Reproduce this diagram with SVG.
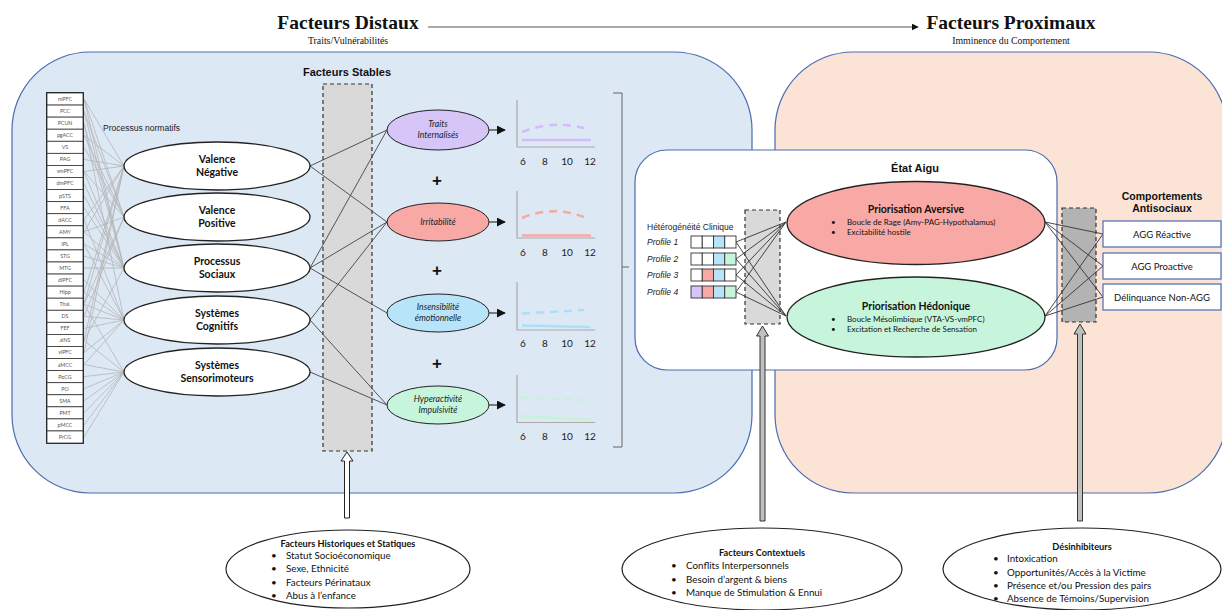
<svg xmlns="http://www.w3.org/2000/svg" width="1222" height="610" viewBox="0 0 1222 610">
<defs>
<marker id="ah" viewBox="0 0 10 10" refX="9" refY="5" markerWidth="7" markerHeight="7" orient="auto" markerUnits="userSpaceOnUse"><path d="M0,0 L10,5 L0,10 z" fill="#111"/></marker>
<marker id="ah2" viewBox="0 0 10 10" refX="9" refY="5" markerWidth="9" markerHeight="9" orient="auto" markerUnits="userSpaceOnUse"><path d="M0,0 L10,5 L0,10 z" fill="#111"/></marker>
<style>
.title{font-family:"Liberation Serif",serif;font-weight:bold;font-size:19.5px;fill:#111;text-anchor:middle}
.sub{font-family:"Liberation Serif",serif;font-size:9.8px;fill:#111;text-anchor:middle}
.ar{font-family:"Liberation Sans",Arial,sans-serif}
.lt{font-family:Lato,"Open Sans",sans-serif}
.cell{fill:#fff;stroke:#333;stroke-width:0.8}
.ct{font-family:Lato,sans-serif;font-size:5.3px;fill:#555;text-anchor:middle}
.rd{fill:#fff;stroke:#222;stroke-width:1.3}
.rdt{font-family:Lato,sans-serif;font-weight:bold;font-size:10.5px;fill:#111;text-anchor:middle}
.tr{stroke:#222;stroke-width:1}
.trt{font-family:Lato,sans-serif;font-style:italic;font-size:8.7px;fill:#222;text-anchor:middle}
.plus{font-family:"Liberation Sans",sans-serif;font-weight:bold;font-size:17px;fill:#111;text-anchor:middle}
.axis{stroke:#aaa;stroke-width:1.2;fill:none}
.gl{font-family:Lato,sans-serif;font-size:10px;fill:#222;text-anchor:middle}
.dash{fill:none;stroke-width:2.5;stroke-dasharray:8,6}
.sol{fill:none;stroke-width:2.5}
.box{fill:#d9d9d9;stroke:#333;stroke-width:1.2;stroke-dasharray:4,3}
.bt{font-family:Lato,sans-serif;font-size:9.8px;fill:#111}
.btb{font-family:Lato,sans-serif;font-weight:bold;font-size:9.2px;fill:#111;text-anchor:middle}
.et{font-family:Lato,sans-serif;font-size:8px;fill:#111}
.pc{stroke:#333;stroke-width:0.9}
.pl{font-family:"Liberation Sans",sans-serif;font-style:italic;font-size:8.5px;fill:#222}
.agg{fill:#fff;stroke:#4a6db0;stroke-width:1.2}
.aggt{font-family:Lato,sans-serif;font-size:9.5px;fill:#111;text-anchor:middle}
</style>
</defs>

<g id="panels">
<rect x="12" y="52" width="740" height="441" rx="78" ry="78" fill="#dde8f5" stroke="#4a6db0" stroke-width="1.2"/>
<rect x="775" y="52" width="452" height="441" rx="78" ry="78" fill="#fbe3d6" stroke="#4a6db0" stroke-width="1.2"/>
</g>

<g id="titles">
<text class="title" x="348" y="29">Facteurs Distaux</text>
<text class="sub" x="348" y="44">Traits/Vulnérabilités</text>
<text class="title" x="1011" y="29">Facteurs Proximaux</text>
<text class="sub" x="1011" y="44">Imminence du Comportement</text>
<line x1="428" y1="27" x2="918" y2="27" stroke="#555" stroke-width="1" marker-end="url(#ah)"/>
<text class="ar" x="347" y="76" font-size="11" font-weight="bold" text-anchor="middle" fill="#111">Facteurs Stables</text>
<text class="ar" x="103" y="131" font-size="8.5" fill="#222">Processus normatifs</text>
</g>

<g id="stable-box"><rect class="box" x="323" y="84" width="49" height="367"/></g>

<g id="state-panel">
<rect x="635" y="150" width="422" height="220" rx="32" ry="32" fill="#fff" stroke="#4a6db0" stroke-width="1.2"/>
<text class="ar" x="915" y="172" font-size="11" font-weight="bold" text-anchor="middle" fill="#111">État Aigu</text>
<rect class="box" x="745" y="210" width="35" height="114"/>
<rect class="box" x="1062" y="208" width="34" height="114" style="fill:#b3b3b3"/>
</g>

<g id="connectors">
<path fill="none" stroke="#b5b5b5" stroke-width="0.8" d="M84 99L124 166 M84 135.2L124 166 M84 159.4L124 166 M84 171.5L124 166 M84 219.7L124 166 M84 231.8L124 166 M84 292.2L124 166 M84 304.2L124 166 M84 340.4L124 166 M84 352.5L124 166 M84 111.1L124 217 M84 135.2L124 217 M84 147.3L124 217 M84 171.5L124 217 M84 231.8L124 217 M84 316.3L124 217 M84 304.2L124 217 M84 99L124 217 M84 99L124 268 M84 111.1L124 268 M84 123.2L124 268 M84 183.5L124 268 M84 195.6L124 268 M84 207.7L124 268 M84 243.9L124 268 M84 256L124 268 M84 268L124 268 M84 340.4L124 268 M84 231.8L124 268 M84 171.5L124 268 M84 280.1L124 320 M84 219.7L124 320 M84 243.9L124 320 M84 328.4L124 320 M84 292.2L124 320 M84 364.6L124 320 M84 352.5L124 320 M84 123.2L124 320 M84 316.3L124 320 M84 304.2L124 320 M84 376.6L124 372 M84 388.7L124 372 M84 400.8L124 372 M84 412.9L124 372 M84 424.9L124 372 M84 437L124 372 M84 364.6L124 372 M84 340.4L124 372 M84 304.2L124 372"/>
<path fill="none" stroke="#444" stroke-width="0.9" d="M310 166L387 130 M310 166L387 222 M310 268L387 130 M310 268L387 222 M310 268L387 313 M310 320L387 222 M310 320L387 405 M310 372L387 405"/>
<g stroke="#111" stroke-width="1">
<line x1="489" y1="130" x2="505" y2="130" marker-end="url(#ah2)"/>
<line x1="489" y1="222" x2="505" y2="222" marker-end="url(#ah2)"/>
<line x1="489" y1="313" x2="505" y2="313" marker-end="url(#ah2)"/>
<line x1="489" y1="405" x2="505" y2="405" marker-end="url(#ah2)"/>
</g>
<path fill="none" stroke="#333" stroke-width="0.9" d="M736 242L786 222 M736 242L786 316 M736 259L786 222 M736 259L786 316 M736 275L786 222 M736 275L786 316 M736 292L786 222 M736 292L786 316"/>
<path fill="none" stroke="#333" stroke-width="0.9" d="M1045 222L1103 234 M1045 222L1103 266 M1045 222L1103 297 M1045 316L1103 234 M1045 316L1103 266 M1045 316L1103 297"/>
<path d="M344.5 518 L344.5 461 L341 461 L347 452 L353 461 L349.5 461 L349.5 518 Z" fill="#fff" stroke="#222" stroke-width="1"/>
<path d="M760 521 L760 336 L756.5 336 L762.5 326 L768.5 336 L765 336 L765 521 Z" fill="#bfbfbf" stroke="#333" stroke-width="1"/>
<path d="M1077.5 521 L1077.5 334 L1074 334 L1080 324 L1086 334 L1082.5 334 L1082.5 521 Z" fill="#bfbfbf" stroke="#333" stroke-width="1"/>
<path d="M613 93 L622 93 L622 447 L613 447 M622 267 L629 267" fill="none" stroke="#666" stroke-width="1"/>
</g>

<g id="brain-regions">
<rect x="47" y="93" width="36" height="350" fill="#fff" stroke="#111" stroke-width="1.8"/>
<rect class="cell" x="47" y="93" width="36" height="12.07"/><text class="ct" x="65" y="100.9">mPFC</text>
<rect class="cell" x="47" y="105.07" width="36" height="12.07"/><text class="ct" x="65" y="113">PCC</text>
<rect class="cell" x="47" y="117.14" width="36" height="12.07"/><text class="ct" x="65" y="125.1">PCUN</text>
<rect class="cell" x="47" y="129.21" width="36" height="12.07"/><text class="ct" x="65" y="137.1">pgACC</text>
<rect class="cell" x="47" y="141.28" width="36" height="12.07"/><text class="ct" x="65" y="149.2">VS</text>
<rect class="cell" x="47" y="153.35" width="36" height="12.07"/><text class="ct" x="65" y="161.3">PAG</text>
<rect class="cell" x="47" y="165.42" width="36" height="12.07"/><text class="ct" x="65" y="173.4">vmPFC</text>
<rect class="cell" x="47" y="177.49" width="36" height="12.07"/><text class="ct" x="65" y="185.4">dmPFC</text>
<rect class="cell" x="47" y="189.56" width="36" height="12.07"/><text class="ct" x="65" y="197.5">pSTS</text>
<rect class="cell" x="47" y="201.63" width="36" height="12.07"/><text class="ct" x="65" y="209.6">FFA</text>
<rect class="cell" x="47" y="213.7" width="36" height="12.07"/><text class="ct" x="65" y="221.6">dACC</text>
<rect class="cell" x="47" y="225.77" width="36" height="12.07"/><text class="ct" x="65" y="233.7">AMY</text>
<rect class="cell" x="47" y="237.84" width="36" height="12.07"/><text class="ct" x="65" y="245.8">IPL</text>
<rect class="cell" x="47" y="249.91" width="36" height="12.07"/><text class="ct" x="65" y="257.9">STG</text>
<rect class="cell" x="47" y="261.98" width="36" height="12.07"/><text class="ct" x="65" y="269.9">MTG</text>
<rect class="cell" x="47" y="274.05" width="36" height="12.07"/><text class="ct" x="65" y="282">dlPFC</text>
<rect class="cell" x="47" y="286.12" width="36" height="12.07"/><text class="ct" x="65" y="294.1">Hipp</text>
<rect class="cell" x="47" y="298.19" width="36" height="12.07"/><text class="ct" x="65" y="306.1">Thal.</text>
<rect class="cell" x="47" y="310.26" width="36" height="12.07"/><text class="ct" x="65" y="318.2">DS</text>
<rect class="cell" x="47" y="322.33" width="36" height="12.07"/><text class="ct" x="65" y="330.3">FEF</text>
<rect class="cell" x="47" y="334.4" width="36" height="12.07"/><text class="ct" x="65" y="342.3">aINS</text>
<rect class="cell" x="47" y="346.47" width="36" height="12.07"/><text class="ct" x="65" y="354.4">vlPFC</text>
<rect class="cell" x="47" y="358.54" width="36" height="12.07"/><text class="ct" x="65" y="366.5">aMCC</text>
<rect class="cell" x="47" y="370.61" width="36" height="12.07"/><text class="ct" x="65" y="378.5">PoCG</text>
<rect class="cell" x="47" y="382.68" width="36" height="12.07"/><text class="ct" x="65" y="390.6">PO</text>
<rect class="cell" x="47" y="394.75" width="36" height="12.07"/><text class="ct" x="65" y="402.7">SMA</text>
<rect class="cell" x="47" y="406.82" width="36" height="12.07"/><text class="ct" x="65" y="414.8">PMT</text>
<rect class="cell" x="47" y="418.89" width="36" height="12.07"/><text class="ct" x="65" y="426.8">pMCC</text>
<rect class="cell" x="47" y="430.96" width="36" height="12.07"/><text class="ct" x="65" y="438.9">PrCG</text>
</g>

<g id="rdoc-valence-negative"><ellipse class="rd" cx="217" cy="166" rx="93" ry="24"/><text class="rdt" x="217" y="163">Valence</text><text class="rdt" x="217" y="176">Négative</text></g>
<g id="rdoc-valence-positive"><ellipse class="rd" cx="217" cy="217" rx="93" ry="24"/><text class="rdt" x="217" y="214">Valence</text><text class="rdt" x="217" y="227">Positive</text></g>
<g id="rdoc-processus-sociaux"><ellipse class="rd" cx="217" cy="268" rx="93" ry="24"/><text class="rdt" x="217" y="265">Processus</text><text class="rdt" x="217" y="278">Sociaux</text></g>
<g id="rdoc-systemes-cognitifs"><ellipse class="rd" cx="217" cy="320" rx="93" ry="24"/><text class="rdt" x="217" y="317">Systèmes</text><text class="rdt" x="217" y="330">Cognitifs</text></g>
<g id="rdoc-sensorimoteurs"><ellipse class="rd" cx="217" cy="372" rx="93" ry="24"/><text class="rdt" x="217" y="369">Systèmes</text><text class="rdt" x="217" y="382">Sensorimoteurs</text></g>

<g id="trait-internalises"><ellipse class="tr" cx="438" cy="130" rx="51" ry="20" fill="#d6c6f8"/><text class="trt" x="438" y="127">Traits</text><text class="trt" x="438" y="138">Internalisés</text></g>
<g id="trait-irritabilite"><ellipse class="tr" cx="438" cy="222" rx="51" ry="19" fill="#f8a9a6"/><text class="trt" x="438" y="225">Irritabilité</text></g>
<g id="trait-insensibilite"><ellipse class="tr" cx="438" cy="313" rx="51" ry="19" fill="#b7e4f9"/><text class="trt" x="438" y="310">Insensibilité</text><text class="trt" x="438" y="321">émotionnelle</text></g>
<g id="trait-hyperactivite"><ellipse class="tr" cx="438" cy="405" rx="51" ry="19" fill="#c7f5dc"/><text class="trt" x="438" y="402">Hyperactivité</text><text class="trt" x="438" y="413">Impulsivité</text></g>

<g id="plus-signs">
<text class="plus" x="437" y="186">+</text>
<text class="plus" x="437" y="276">+</text>
<text class="plus" x="437" y="369">+</text>
</g>

<g id="graph-1">
<path class="axis" d="M517 100 L517 147 L595 147"/>
<path class="dash" stroke="#d4bcfb" d="M522 132 Q552 120 584 128"/>
<path class="sol" stroke="#d4bcfb" d="M522 140 L591 140"/>
<text class="gl" x="523" y="165">6</text><text class="gl" x="545" y="165">8</text><text class="gl" x="567" y="165">10</text><text class="gl" x="590" y="165">12</text>
</g>
<g id="graph-2">
<path class="axis" d="M517 191 L517 238 L595 238"/>
<path class="dash" stroke="#f6a8a2" d="M522 218 Q552 205 584 217"/>
<path class="sol" stroke="#f6a8a2" d="M522 235.5 L591 235.5"/>
<text class="gl" x="523" y="256">6</text><text class="gl" x="545" y="256">8</text><text class="gl" x="567" y="256">10</text><text class="gl" x="590" y="256">12</text>
</g>
<g id="graph-3">
<path class="axis" d="M517 282 L517 330 L595 330"/>
<path class="dash" stroke="#aadff8" d="M522 313.5 L584 310"/>
<path class="sol" stroke="#aadff8" d="M522 325.5 L590 327"/>
<text class="gl" x="523" y="347">6</text><text class="gl" x="545" y="347">8</text><text class="gl" x="567" y="347">10</text><text class="gl" x="590" y="347">12</text>
</g>
<g id="graph-4">
<path class="axis" d="M517 375 L517 422.5 L595 422.5"/>
<path class="dash" stroke="#c6f3d8" d="M522 397.5 L584 400"/>
<path class="sol" stroke="#c6f3d8" d="M522 416 L590 420"/>
<text class="gl" x="523" y="440">6</text><text class="gl" x="545" y="440">8</text><text class="gl" x="567" y="440">10</text><text class="gl" x="590" y="440">12</text>
</g>

<g id="profiles">
<text class="ar" x="647" y="230" font-size="8.5" fill="#222">Hétérogénéité Clinique</text>
<text class="pl" x="647" y="245">Profile 1</text>
<text class="pl" x="647" y="262">Profile 2</text>
<text class="pl" x="647" y="278">Profile 3</text>
<text class="pl" x="647" y="295">Profile 4</text>
<g class="pc">
<rect x="691" y="236" width="11.25" height="12" fill="#fff"/><rect x="702.25" y="236" width="11.25" height="12" fill="#fff"/><rect x="713.5" y="236" width="11.25" height="12" fill="#b7e4f9"/><rect x="724.75" y="236" width="11.25" height="12" fill="#fff"/>
<rect x="691" y="253" width="11.25" height="12" fill="#fff"/><rect x="702.25" y="253" width="11.25" height="12" fill="#fff"/><rect x="713.5" y="253" width="11.25" height="12" fill="#b7e4f9"/><rect x="724.75" y="253" width="11.25" height="12" fill="#c7f5dc"/>
<rect x="691" y="269" width="11.25" height="12" fill="#fff"/><rect x="702.25" y="269" width="11.25" height="12" fill="#f8a9a6"/><rect x="713.5" y="269" width="11.25" height="12" fill="#b7e4f9"/><rect x="724.75" y="269" width="11.25" height="12" fill="#fff"/>
<rect x="691" y="286" width="11.25" height="12" fill="#d6c6f8"/><rect x="702.25" y="286" width="11.25" height="12" fill="#f8a9a6"/><rect x="713.5" y="286" width="11.25" height="12" fill="#b7e4f9"/><rect x="724.75" y="286" width="11.25" height="12" fill="#c7f5dc"/>
</g>
</g>

<g id="priorisation-aversive">
<ellipse cx="916" cy="223" rx="129" ry="41.5" fill="#f8a9a6" stroke="#222" stroke-width="1.3"/>
<text class="lt" x="916" y="213" font-size="10.5" font-weight="bold" text-anchor="middle" fill="#111">Priorisation Aversive</text>
<text class="et" x="831" y="224.5">•</text><text class="et" x="847" y="224.5">Boucle de Rage (Amy-PAG-Hypothalamus)</text>
<text class="et" x="831" y="234.5">•</text><text class="et" x="847" y="234.5">Excitabilité hostile</text>
</g>
<g id="priorisation-hedonique">
<ellipse cx="916" cy="317" rx="129" ry="40" fill="#c7f5dc" stroke="#222" stroke-width="1.3"/>
<text class="lt" x="916" y="310" font-size="10.5" font-weight="bold" text-anchor="middle" fill="#111">Priorisation Hédonique</text>
<text class="et" x="831" y="321.5">•</text><text class="et" x="847" y="321.5">Boucle Mésolimbique (VTA-VS-vmPFC)</text>
<text class="et" x="831" y="331.5">•</text><text class="et" x="847" y="331.5">Excitation et Recherche de Sensation</text>
</g>

<g id="comportements">
<text class="ar" x="1162" y="200" font-size="10.5" font-weight="bold" text-anchor="middle" fill="#111">Comportements</text>
<text class="ar" x="1162" y="212" font-size="10.5" font-weight="bold" text-anchor="middle" fill="#111">Antisociaux</text>
</g>
<g id="agg-reactive"><rect class="agg" x="1103" y="221" width="118" height="26"/><text class="aggt" x="1162" y="237.5">AGG Réactive</text></g>
<g id="agg-proactive"><rect class="agg" x="1103" y="253" width="118" height="26"/><text class="aggt" x="1162" y="269.5">AGG Proactive</text></g>
<g id="delinquance"><rect class="agg" x="1103" y="284" width="118" height="26"/><text class="aggt" x="1162" y="300.5">Délinquance Non-AGG</text></g>

<g id="facteurs-historiques">
<ellipse cx="348" cy="569" rx="122" ry="39" fill="#fff" stroke="#222" stroke-width="1.2"/>
<text class="btb" x="348" y="547">Facteurs Historiques et Statiques</text>
<text class="bt" x="271" y="559">•</text><text class="bt" x="286" y="559">Statut Socioéconomique</text>
<text class="bt" x="271" y="572">•</text><text class="bt" x="286" y="572">Sexe, Ethnicité</text>
<text class="bt" x="271" y="585.5">•</text><text class="bt" x="286" y="585.5">Facteurs Périnataux</text>
<text class="bt" x="271" y="598.5">•</text><text class="bt" x="286" y="598.5">Abus à l’enfance</text>
</g>
<g id="facteurs-contextuels">
<ellipse cx="762" cy="569" rx="140" ry="41" fill="#fff" stroke="#222" stroke-width="1.2"/>
<text class="btb" x="762" y="556">Facteurs Contextuels</text>
<text class="bt" x="671" y="569">•</text><text class="bt" x="686" y="569">Conflits Interpersonnels</text>
<text class="bt" x="671" y="582.5">•</text><text class="bt" x="686" y="582.5">Besoin d’argent &amp; biens</text>
<text class="bt" x="671" y="596">•</text><text class="bt" x="686" y="596">Manque de Stimulation &amp; Ennui</text>
</g>
<g id="desinhibiteurs">
<ellipse cx="1082" cy="569" rx="139" ry="41" fill="#fff" stroke="#222" stroke-width="1.2"/>
<text class="btb" x="1082" y="550">Désinhibiteurs</text>
<text class="bt" x="993" y="562">•</text><text class="bt" x="1007" y="562">Intoxication</text>
<text class="bt" x="993" y="575.5">•</text><text class="bt" x="1007" y="575.5">Opportunités/Accès à la Victime</text>
<text class="bt" x="993" y="588.5">•</text><text class="bt" x="1007" y="588.5">Présence et/ou Pression des pairs</text>
<text class="bt" x="993" y="601.5">•</text><text class="bt" x="1007" y="601.5">Absence de Témoins/Supervision</text>
</g>
</svg>
